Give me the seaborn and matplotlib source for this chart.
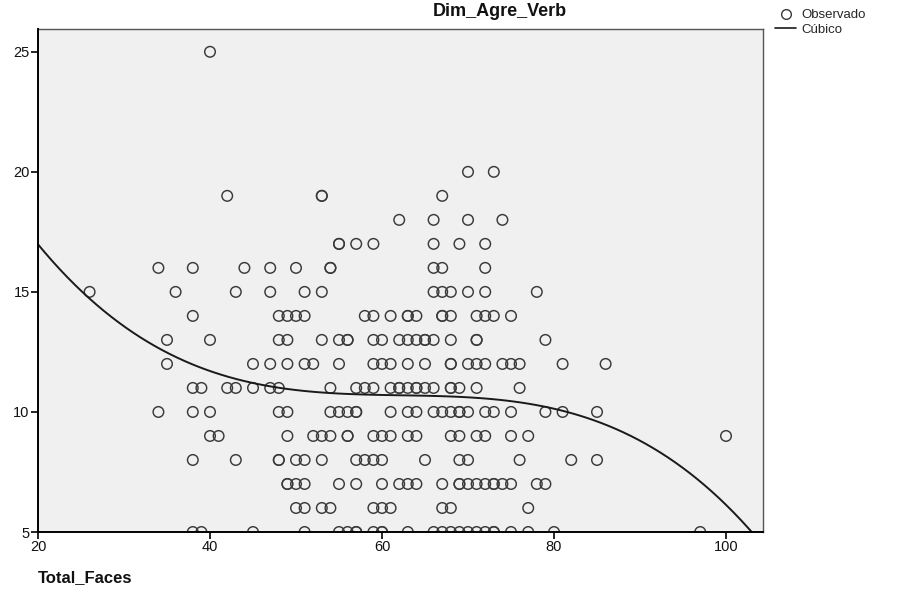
import numpy as np
import pandas as pd
import matplotlib
matplotlib.use("Agg")
import matplotlib.pyplot as plt
import seaborn as sns
from matplotlib.lines import Line2D

# ---- data: Total_Faces values observed at each Dim_Agre_Verb level ----
x_at_25 = [40]
x_at_20 = [70, 73]
x_at_19 = [42, 53, 53, 67]
x_at_18 = [62, 66, 70, 74]
x_at_17 = [55, 55, 57, 59, 66, 69, 72]
x_at_16 = [34, 38, 44, 47, 50, 54, 54, 66, 67, 72]
x_at_15 = [26, 36, 43, 47, 51, 53, 66, 67, 68, 70, 72, 78]
x_at_14 = [38, 48, 49, 50, 51, 58, 59, 61, 63, 63, 64, 67, 67, 68, 71, 72, 73, 75]
x_at_13 = [35, 40, 48, 49, 53, 55, 56, 56, 59, 60, 62, 63, 64, 65, 65, 66, 68,
           71, 71, 79]
x_at_12 = [35, 45, 47, 49, 51, 52, 55, 59, 60, 61, 63, 65, 68, 68, 70, 71, 72,
           74, 75, 76, 81, 86]
x_at_11 = [38, 39, 42, 43, 45, 47, 48, 54, 57, 58, 59, 61, 62, 62, 63, 64, 64,
           65, 66, 68, 68, 69, 71, 76]
x_at_10 = [34, 38, 40, 48, 49, 54, 55, 56, 57, 57, 61, 63, 64, 66, 67, 68, 69,
           69, 70, 72, 73, 75, 79, 81, 85]
x_at_9 = [40, 41, 49, 52, 53, 54, 56, 56, 59, 60, 61, 63, 64, 68, 69, 71, 72,
          75, 77, 100]
x_at_8 = [38, 43, 48, 48, 50, 51, 53, 57, 58, 59, 60, 65, 69, 70, 76, 82, 85]
x_at_7 = [49, 49, 50, 51, 55, 57, 60, 62, 63, 64, 67, 69, 69, 70, 71, 72, 73,
          73, 74, 75, 78, 79]
x_at_6 = [50, 51, 53, 54, 59, 60, 61, 67, 68, 77]
x_at_5 = [38, 39, 45, 51, 55, 56, 57, 57, 59, 60, 60, 63, 66, 67, 68, 69, 70,
          71, 72, 73, 73, 75, 77, 80, 97]

levels = [25, 20, 19, 18, 17, 16, 15, 14, 13, 12, 11, 10, 9, 8, 7, 6, 5]
x_lists = [x_at_25, x_at_20, x_at_19, x_at_18, x_at_17, x_at_16, x_at_15,
           x_at_14, x_at_13, x_at_12, x_at_11, x_at_10, x_at_9, x_at_8,
           x_at_7, x_at_6, x_at_5]

x_ticks = [20, 40, 60, 80, 100]
y_ticks = [5, 10, 15, 20, 25]

rows = []
for lvl, xs in zip(levels, x_lists):
    for xv in xs:
        rows.append((xv, lvl))
df = pd.DataFrame(rows, columns=["Total_Faces", "Dim_Agre_Verb"])

# ---- figure ----
sns.set_theme(style="white")
plt.rcParams["font.family"] = ["Liberation Sans", "DejaVu Sans"]

fig = plt.figure(figsize=(9.08, 5.90), dpi=100)
ax = fig.add_axes([38 / 908, 1 - 532 / 590, (763 - 38) / 908, (532 - 29) / 590])
ax.set_facecolor("#f0f0f0")

ax.set_xlim(20, 104.3)
ax.set_ylim(5, 25.95)

sns.scatterplot(data=df, x="Total_Faces", y="Dim_Agre_Verb", ax=ax,
                marker="o", s=58, facecolor="none", edgecolor="#3a3a3a",
                linewidth=1.05, legend=False, zorder=3)

sns.regplot(data=df, x="Total_Faces", y="Dim_Agre_Verb", ax=ax, order=3,
            ci=None, scatter=False, truncate=False,
            line_kws=dict(color="#1a1a1a", linewidth=1.4, zorder=4))

for coll in ax.collections:
    coll.set_clip_on(True)
    coll.set_clip_box(ax.bbox)

ax.set_xlim(20, 104.3)
ax.set_ylim(5, 25.95)
ax.set_xticks(x_ticks)
ax.set_yticks(y_ticks)
ax.set_xlabel("")
ax.set_ylabel("")
ax.tick_params(axis="both", which="major", direction="out", length=5,
               width=1.2, color="black", labelsize=10.5, labelcolor="#111111",
               left=True, bottom=True, pad=1)

for side in ["left", "bottom"]:
    ax.spines[side].set_color("black")
    ax.spines[side].set_linewidth(1.4)
    ax.spines[side].set_zorder(5)
for side in ["top", "right"]:
    ax.spines[side].set_color("#555555")
    ax.spines[side].set_linewidth(1.0)
    ax.spines[side].set_visible(True)

fig.text(500 / 908, 1 - 12 / 590, "Dim_Agre_Verb", ha="center", va="center",
         fontsize=13, fontweight="bold", color="#111111")
fig.text(38 / 908, 1 - 578 / 590, "Total_Faces", ha="left", va="center",
         fontsize=12, fontweight="bold", color="#111111")

handles = [
    Line2D([], [], marker="o", linestyle="none", markerfacecolor="none",
           markeredgecolor="#3a3a3a", markersize=7, markeredgewidth=1.0),
    Line2D([], [], color="#1a1a1a", linewidth=1.2),
]
fig.legend(handles, ["Observado", "Cúbico"], loc="upper left",
           bbox_to_anchor=(766 / 908, 1 - 0 / 590), frameon=False,
           fontsize=9.5, handlelength=1.6, handletextpad=0.4,
           labelspacing=0.15, borderpad=0.2)

fig.savefig("out.png", dpi=100, facecolor="white")
